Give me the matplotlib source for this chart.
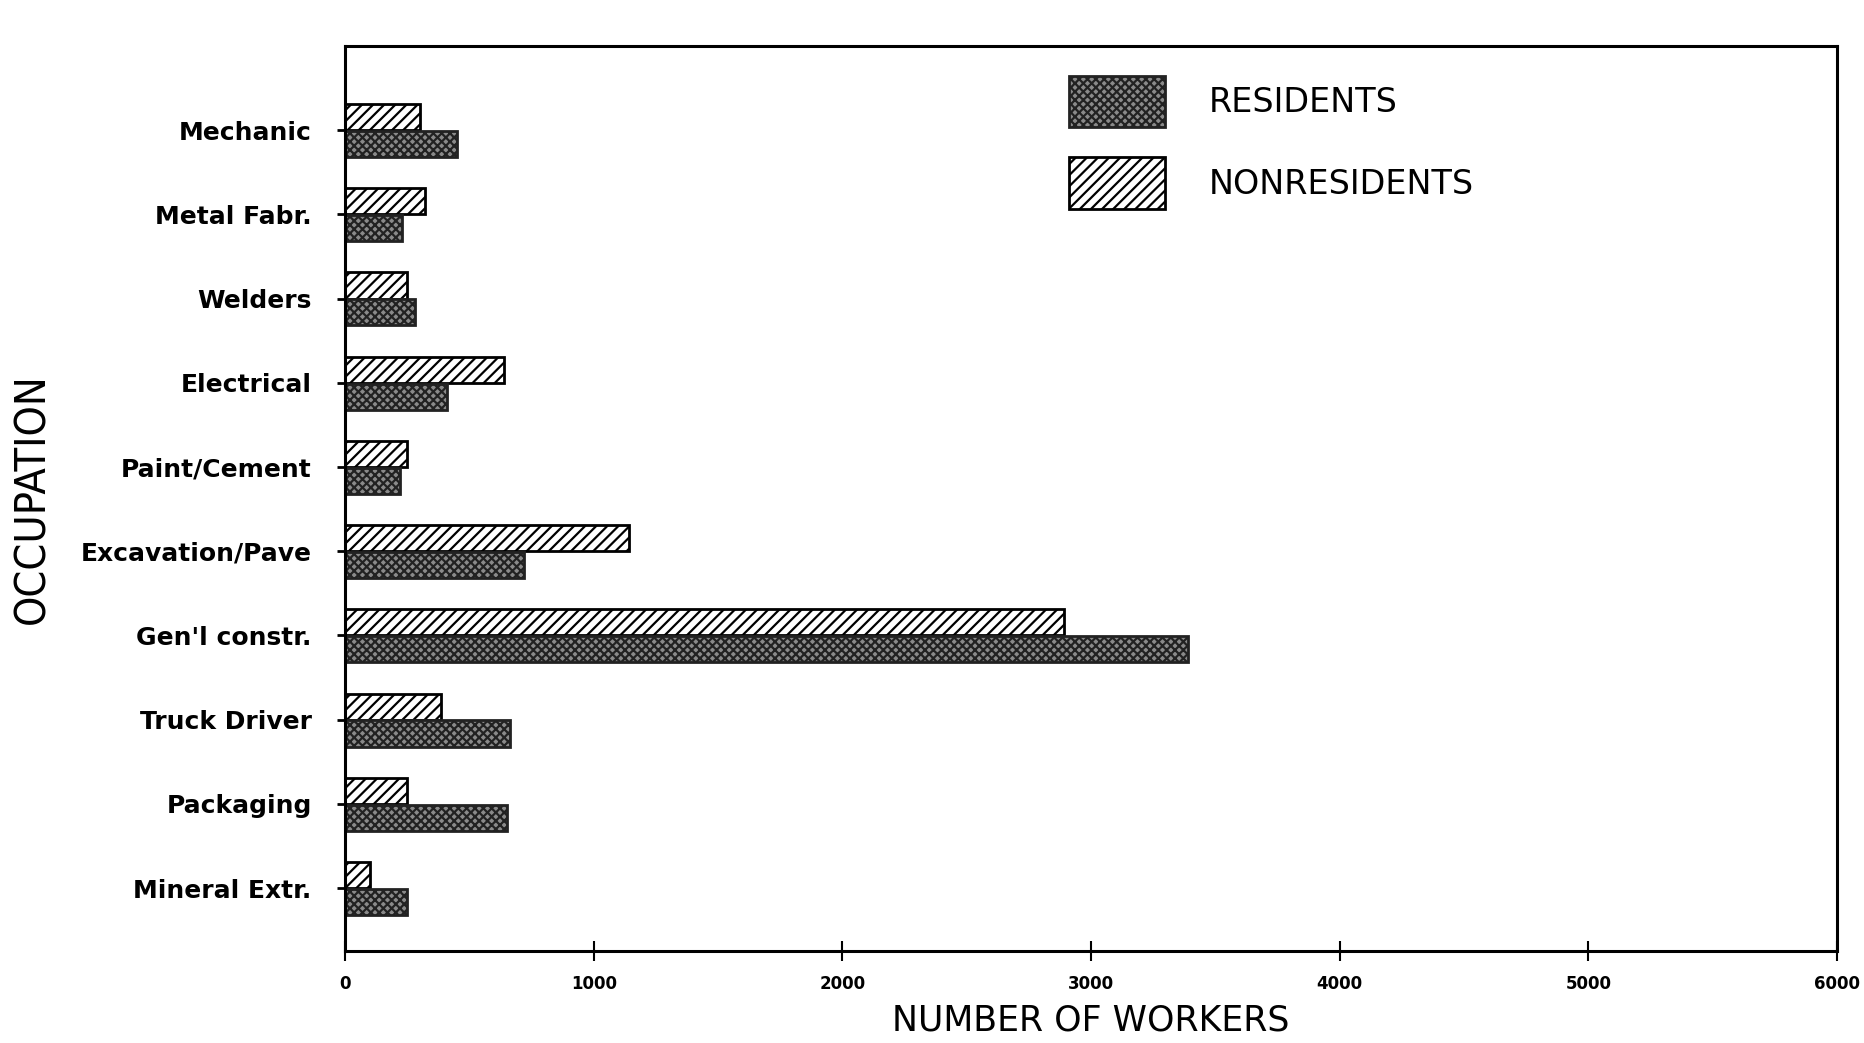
import numpy as np
import matplotlib.pyplot as plt

occupations = ['Mechanic', 'Metal Fabr.', 'Welders', 'Electrical', 'Paint/Cement',
               'Excavation/Pave', "Gen'l constr.", 'Truck Driver', 'Packaging', 'Mineral Extr.']
residents = [450, 230, 280, 410, 220, 720, 3390, 665, 650, 250]
nonresidents = [300, 320, 250, 640, 250, 1140, 2890, 385, 250, 100]
xticks = [0, 1000, 2000, 3000, 4000, 5000, 6000]

plt.rcParams['hatch.linewidth'] = 1.6

fig = plt.figure(figsize=(18.65, 10.43), dpi=100)
ax = fig.add_axes([0.185, 0.088, 0.8, 0.868])

y = np.arange(len(occupations))
h = 0.31
ax.barh(y - 0.155, nonresidents, height=h, facecolor='white', edgecolor='black',
        hatch='///', linewidth=2, label='NONRESIDENTS')
ax.barh(y + 0.165, residents, height=h, facecolor='#8a8a8a', edgecolor='#222222',
        hatch='xxxx', linewidth=2, label='RESIDENTS')

ax.set_xlim(0, 6000)
ax.set_ylim(9.75, -1.0)
ax.set_xticks(xticks)
ax.set_xticklabels([str(v) for v in xticks], fontsize=12, fontweight='bold')
ax.set_yticks(y)
ax.set_yticklabels(occupations, fontsize=18, fontweight='bold')
ax.tick_params(axis='y', direction='out', length=6, width=2, pad=18)
ax.tick_params(axis='x', direction='inout', length=14, width=1.5, pad=10)
for s in ax.spines.values():
    s.set_linewidth(2.2)

ax.set_xlabel('NUMBER OF WORKERS', fontsize=25, labelpad=8)
ax.set_ylabel('OCCUPATION', fontsize=31, family='DejaVu Sans', fontstretch='condensed', labelpad=20)

handles, labels = ax.get_legend_handles_labels()
ax.legend(handles[::-1], labels[::-1], loc='upper left', bbox_to_anchor=(0.465, 1.0),
          frameon=False, fontsize=24, handlelength=2.9, handleheight=2.0,
          labelspacing=0.9, handletextpad=1.3)

fig.savefig('out.png', dpi=100)
